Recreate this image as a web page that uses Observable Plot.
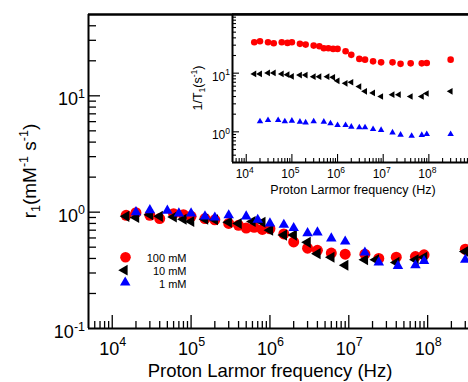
<!DOCTYPE html>
<html><head><meta charset="utf-8">
<script src="https://cdn.jsdelivr.net/npm/d3@7"></script>
<script src="https://cdn.jsdelivr.net/npm/@observablehq/plot@0.6"></script>
<style>
html,body{margin:0;padding:0;background:#fff;overflow:hidden}
#wrap{position:relative;width:468px;height:382px;overflow:hidden;background:#fff}
#wrap svg{position:absolute;top:0}
</style></head><body><div id="wrap"></div>
<script>
// ---- data ----
const freq100 = [1.5e4,2e4,3e4,4e4,6e4,8e4,1e5,1.5e5,2e5,3e5,4e5,5e5,6.3e5,8e5,1e6,1.5e6,2e6,3e6,4e6,6e6,9e6,1.6e7,2.4e7,4e7,7e7,9e7,3e8];
const r1_100  = [0.94,0.99,0.94,0.88,0.97,0.95,0.92,0.88,0.86,0.80,0.77,0.73,0.74,0.71,0.72,0.65,0.555,0.49,0.47,0.445,0.435,0.435,0.40,0.41,0.415,0.43,0.48];
const R1_100  = [33.7,35.0,33.7,32.4,33.7,32.8,33.7,31.6,30.7,29.5,28.7,26.6,26.6,25.9,25.9,23.6,20.5,17.5,17.0,15.9,15.3,15.3,14.4,14.7,14.7,14.9,17.0];

const freq10 = [1.5e4,2e4,3e4,4e4,6e4,8e4,1e5,1.5e5,2e5,3e5,4e5,6e5,8e5,1e6,1.5e6,2e6,3e6,4e6,6e6,9e6,1.6e7,2.2e7,4e7,7e7,9e7,3e8];
const r1_10  = [0.92,0.90,0.95,0.92,0.91,0.87,0.83,0.87,0.86,0.82,0.80,0.83,0.82,0.70,0.635,0.635,0.55,0.44,0.41,0.35,0.39,0.39,0.37,0.39,0.41,0.46];
const R1_10  = [9.7,9.7,10.1,10.1,9.7,9.4,8.8,9.3,9.3,8.7,8.7,8.7,8.5,7.4,6.7,7.0,5.9,4.9,4.6,4.0,4.3,4.3,4.0,4.0,4.5,4.9];

const freq1 = [2e4,3e4,5e4,7e4,1e5,1.5e5,2e5,3e5,5e5,7e5,1e6,1.5e6,2e6,3e6,4e6,6e6,9e6,1.6e7,2.4e7,4.2e7,7e7,9e7,3e8];
const r1_1  = [1.0,1.04,1.03,0.975,0.975,0.92,0.90,0.94,0.92,0.86,0.80,0.78,0.73,0.66,0.67,0.595,0.56,0.45,0.37,0.345,0.35,0.38,0.39];
const R1_1  = [1.50,1.58,1.58,1.50,1.54,1.48,1.44,1.50,1.48,1.39,1.30,1.30,1.22,1.19,1.19,1.11,1.07,0.97,0.89,0.85,0.88,0.91,0.91];

const legendLabels = ["100 mM", "10 mM", "1 mM"];
const xMajor = [1e4,1e5,1e6,1e7,1e8];
const xMajorExp = ["4","5","6","7","8"];
const mainYMajor = [0.1,1,10];
const mainYExp = ["-1","0","1"];
const insetYMajor = [1,10];
const insetYExp = ["0","1"];
const xLabel = "Proton Larmor frequency (Hz)";

// ---- helpers ----
const FONT = "'Liberation Sans', Arial, Helvetica, sans-serif";
const rows = (f, v) => f.map((x, i) => ({f: x, v: v[i]}));
function minors(lo, hi, min, max) {
  const out = [];
  for (let e = lo; e <= hi; e++) for (let m = 2; m <= 9; m++) {
    const v = m * Math.pow(10, e);
    if (v > min && v < max) out.push(v);
  }
  return out;
}
const RED = "#ff0000", BLK = "#000000", BLU = "#0000ff";
const wrap = document.getElementById("wrap");

// ---- main plot ----
const MW = 510, MH = 382, ML = 88, MR = 4, MT = 14, MB = 54;
const FW = MW - ML - MR, FH = MH - MT - MB;
const xDom = [5e3, 1e9];
const yDomMain = [0.1, 50];

const main = Plot.plot({
  width: MW, height: MH, marginLeft: ML, marginRight: MR, marginTop: MT, marginBottom: MB,
  x: {type: "log", domain: xDom, axis: null},
  y: {type: "log", domain: yDomMain, axis: null},
  style: {background: "transparent", maxWidth: "none", overflow: "visible", fontFamily: FONT},
  marks: [
    Plot.tickX(minors(3, 8, 5e3, 1e9), {x: d => d, insetTop: FH - 7, stroke: BLK, strokeWidth: 1.3}),
    Plot.tickX(xMajor, {x: d => d, insetTop: FH - 13, stroke: BLK, strokeWidth: 1.3}),
    Plot.tickY(minors(-1, 1, 0.1, 50), {y: d => d, insetRight: FW - 8, stroke: BLK, strokeWidth: 1.3}),
    Plot.tickY(mainYMajor.slice(1), {y: d => d, insetRight: FW - 12, stroke: BLK, strokeWidth: 1.3}),
    Plot.ruleX([xDom[0]], {stroke: BLK, strokeWidth: 2}),
    Plot.ruleY([yDomMain[0]], {stroke: BLK, strokeWidth: 2}),
    Plot.ruleY([yDomMain[1]], {stroke: BLK, strokeWidth: 2.4}),
    Plot.dot(rows(freq100, r1_100), {x: "f", y: "v", r: 5.5, fill: RED}),
    Plot.dot(rows(freq10, r1_10), {x: "f", y: "v", r: 4.1, symbol: "triangle", rotate: -90, fill: BLK}),
    Plot.dot(rows(freq1, r1_1), {x: "f", y: "v", r: 3.9, symbol: "triangle", fill: BLU}),
    // legend
    Plot.dot([0], {frameAnchor: "top-left", dx: 37, dy: 242.7, r: 5.3, fill: RED}),
    Plot.dot([0], {frameAnchor: "top-left", dx: 36, dy: 255.7, r: 4, symbol: "triangle", rotate: -90, fill: BLK}),
    Plot.dot([0], {frameAnchor: "top-left", dx: 36.7, dy: 268, r: 3.9, symbol: "triangle", fill: BLU}),
    ...legendLabels.map((t, i) => Plot.text([t], {frameAnchor: "top-left", text: d => d, dx: 98, dy: 247 + 13 * i,
      textAnchor: "end", lineAnchor: "bottom", fontSize: 11, fill: BLK}))
  ]
});
main.style.left = "0px";
wrap.appendChild(main);

function pow10(svg, x, y, exp, anchor, size, supSize, supDy) {
  const t = d3.select(svg).append("text").attr("x", x).attr("y", y).attr("text-anchor", anchor)
    .attr("font-family", FONT).attr("font-size", size).attr("fill", "#000");
  t.append("tspan").text("10");
  t.append("tspan").attr("font-size", supSize).attr("dy", supDy).text(exp);
}
const msx = main.scale("x"), msy = main.scale("y");
xMajor.forEach((v, i) => pow10(main, msx.apply(v) + 1, 355, xMajorExp[i], "middle", 18, 12.5, -9.5));
mainYMajor.forEach((v, i) => pow10(main, 85, msy.apply(v) + 10, mainYExp[i], "end", 18, 12.5, -7.5));

const ms = d3.select(main);
ms.append("text").attr("x", 270).attr("y", 377).attr("text-anchor", "middle")
  .attr("font-family", FONT).attr("font-size", 18.5).attr("fill", "#000").text(xLabel);
{
  const t = ms.append("text").attr("transform", "translate(36,171) rotate(-90)").attr("text-anchor", "middle")
    .attr("font-family", FONT).attr("font-size", 19).attr("fill", "#000");
  t.append("tspan").text("r");
  t.append("tspan").attr("font-size", 12.5).attr("dy", 4).text("1");
  t.append("tspan").attr("dy", -4).text("(mM");
  t.append("tspan").attr("font-size", 12.5).attr("dy", -8).text("-1");
  t.append("tspan").attr("dy", 8).text(" s");
  t.append("tspan").attr("font-size", 12.5).attr("dy", -8).text("-1");
  t.append("tspan").attr("dy", 8).text(")");
}

// ---- inset plot ----
const IW = 296, IH = 200, IL = 52, IR = 2, IT = 14, IB = 38;
const IFW = IW - IL - IR, IFH = IH - IT - IB;
const yDomInset = [0.3, 100];
const inset = Plot.plot({
  width: IW, height: IH, marginLeft: IL, marginRight: IR, marginTop: IT, marginBottom: IB,
  x: {type: "log", domain: xDom, axis: null},
  y: {type: "log", domain: yDomInset, axis: null},
  style: {background: "transparent", maxWidth: "none", overflow: "visible", fontFamily: FONT},
  marks: [
    Plot.frame({fill: "white", stroke: null}),
    Plot.tickX(minors(3, 8, 5e3, 1e9), {x: d => d, insetTop: IFH - 4, stroke: BLK, strokeWidth: 1.1}),
    Plot.tickX(xMajor, {x: d => d, insetTop: IFH - 8, stroke: BLK, strokeWidth: 1.1}),
    Plot.tickY(minors(-1, 1, 0.3, 100), {y: d => d, insetRight: IFW - 4, stroke: BLK, strokeWidth: 1.1}),
    Plot.tickY(insetYMajor, {y: d => d, insetRight: IFW - 7, stroke: BLK, strokeWidth: 1.1}),
    Plot.ruleX([xDom[0]], {stroke: BLK, strokeWidth: 2}),
    Plot.ruleY([yDomInset[0]], {stroke: BLK, strokeWidth: 2}),
    Plot.ruleY([yDomInset[1]], {stroke: BLK, strokeWidth: 2.4}),
    Plot.dot(rows(freq100, R1_100), {x: "f", y: "v", r: 3.3, fill: RED}),
    Plot.dot(rows(freq10, R1_10), {x: "f", y: "v", r: 2.5, symbol: "triangle", rotate: -90, fill: BLK}),
    Plot.dot(rows(freq1, R1_1), {x: "f", y: "v", r: 2.4, symbol: "triangle", fill: BLU})
  ]
});
inset.style.left = "180px";
wrap.appendChild(inset);
const isx = inset.scale("x"), isy = inset.scale("y");
xMajor.forEach((v, i) => pow10(inset, isx.apply(v) - 1, 177.5, xMajorExp[i], "middle", 12, 8.5, -4.5));
insetYMajor.forEach((v, i) => pow10(inset, IL - 2, isy.apply(v) + 8, insetYExp[i], "end", 12, 8.5, -5.5));
const is = d3.select(inset);
is.append("text").attr("x", 173).attr("y", 194).attr("text-anchor", "middle")
  .attr("font-family", FONT).attr("font-size", 12.5).attr("fill", "#000").text(xLabel);
{
  const t = is.append("text").attr("transform", "translate(22,88) rotate(-90)").attr("text-anchor", "middle")
    .attr("font-family", FONT).attr("font-size", 12.5).attr("fill", "#000");
  t.append("tspan").text("1/T");
  t.append("tspan").attr("font-size", 8.5).attr("dy", 3).text("1");
  t.append("tspan").attr("dy", -3).text("(s");
  t.append("tspan").attr("font-size", 8.5).attr("dy", -5).text("-1");
  t.append("tspan").attr("dy", 5).text(")");
}
</script></body></html>
